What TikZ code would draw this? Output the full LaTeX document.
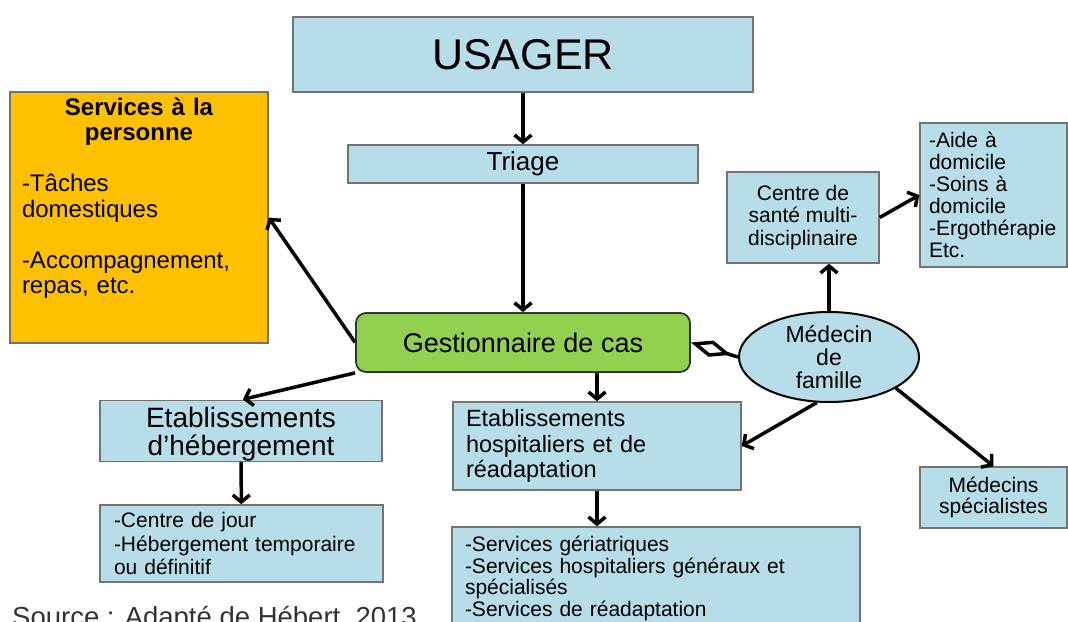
\documentclass[tikz,border=0pt]{standalone}
\usepackage{fontspec}
\setmainfont{Liberation Sans}
\usetikzlibrary{arrows.meta,positioning,shapes.geometric}
\definecolor{bleuclair}{HTML}{B7DEE8}
\definecolor{orangeserv}{HTML}{FFC000}
\definecolor{vertgest}{HTML}{92D050}
\newcommand{\fs}[2]{\fontsize{#1}{#2}\selectfont}

\begin{document}
\begin{tikzpicture}[x=1pt,y=-1pt,
  boite/.style={draw=black!55,line width=1.5pt,fill=bleuclair,inner sep=0pt},
  gauche/.style={align=left},
  fleche/.style={-{Straight Barb[length=7pt,width=17pt]},line width=3.5pt}]
  \useasboundingbox (0,0) rectangle (1068,621);
  \node[boite,minimum width=460pt,minimum height=75pt,font=\fs{43}{43}] (usager) at (523,54.5) {USAGER};
  \node[boite,minimum width=350pt,minimum height=38pt,font=\fs{26}{26}] (triage) at (523,164) {Triage};
  \node[draw=black!80,line width=1.8pt,fill=vertgest,rounded corners=10pt,
    minimum width=334pt,minimum height=59pt,font=\fs{27}{27}] (gest) at (523,342.5) {Gestionnaire de cas};
  \node[draw=black!55,line width=1.5pt,fill=orangeserv,inner sep=0pt,
    minimum width=258pt,minimum height=251pt,text width=234pt,font=\fs{24}{25.5}] (serv) at (139,217.5)
    {{\centering\bfseries Services à la\\personne\par}
     \vspace{25.5pt}
     -Tâches\\domestiques\par
     \vspace{25.5pt}
     -Accompagnement,\\repas, etc.\par
     \rule{0pt}{38pt}};
  \node[boite,minimum width=282pt,minimum height=58pt,align=center,font=\fs{28}{28}] (heb) at (241,431)
    {\rule{0pt}{27pt}Etablissements\\d’hébergement};
  \node[boite,gauche,minimum width=283pt,minimum height=77pt,text width=255pt,font=\fs{21}{23.5}] (jour) at (241.5,543.5)
    {-Centre de jour\\-Hébergement temporaire\\ou définitif};
  \node[boite,gauche,minimum width=288pt,minimum height=88pt,text width=262pt,font=\fs{23.5}{25.5}] (hosp) at (597,446)
    {Etablissements\\hospitaliers et de\\réadaptation};
  \node[boite,gauche,minimum width=408pt,minimum height=103pt,text width=382pt,font=\fs{21}{21.5}] (ger) at (656,578.5)
    {-Services gériatriques\\-Services hospitaliers généraux et\\spécialisés\\-Services de réadaptation};
  \node[ellipse,draw=black,line width=2pt,fill=bleuclair,minimum width=180pt,minimum height=90pt,
    inner sep=0pt,align=center,font=\fs{23}{23}] (med) at (829,357) {Médecin\\de\\famille};
  \node[boite,minimum width=152pt,minimum height=91pt,align=center,font=\fs{21}{22.5}] (sante) at (803,217.5)
    {Centre de\\santé multi-\\disciplinaire};
  \node[boite,gauche,minimum width=147pt,minimum height=144pt,text width=129pt,font=\fs{21}{22}] (aide) at (993.5,195)
    {-Aide à\\domicile\\-Soins à\\domicile\\-Ergothérapie\\Etc.};
  \node[boite,minimum width=147pt,minimum height=61pt,align=center,font=\fs{21}{21}] (spec) at (993.5,497.5)
    {Médecins\\spécialistes};
  \node[anchor=base west,inner sep=0pt,text=black!80,font=\fs{27.5}{27.5}] (source) at (12,626)
    {Source : Adapté de Hébert, 2013};
  \path[fleche]
  (usager) edge (triage)
  (triage) edge (gest)
  (gest.west) edge (serv.east)
  (gest.south west) edge[shorten >=2pt] (heb.north)
  (heb) edge (jour)
  (gest.south -| hosp.north) edge (hosp.north)
  (hosp.south) edge (hosp.south |- ger.north)
  (med.north) edge (med.north |- sante.south)
  (sante.east) edge (aide.west)
  (med.255) edge (hosp.east)
  (med.335) edge (spec.north)
  ;
  \draw[line width=3.5pt,{Diamond[open,length=42pt,width=17pt]}-] (gest.east) -- (med.west);
\end{tikzpicture}
\end{document}
